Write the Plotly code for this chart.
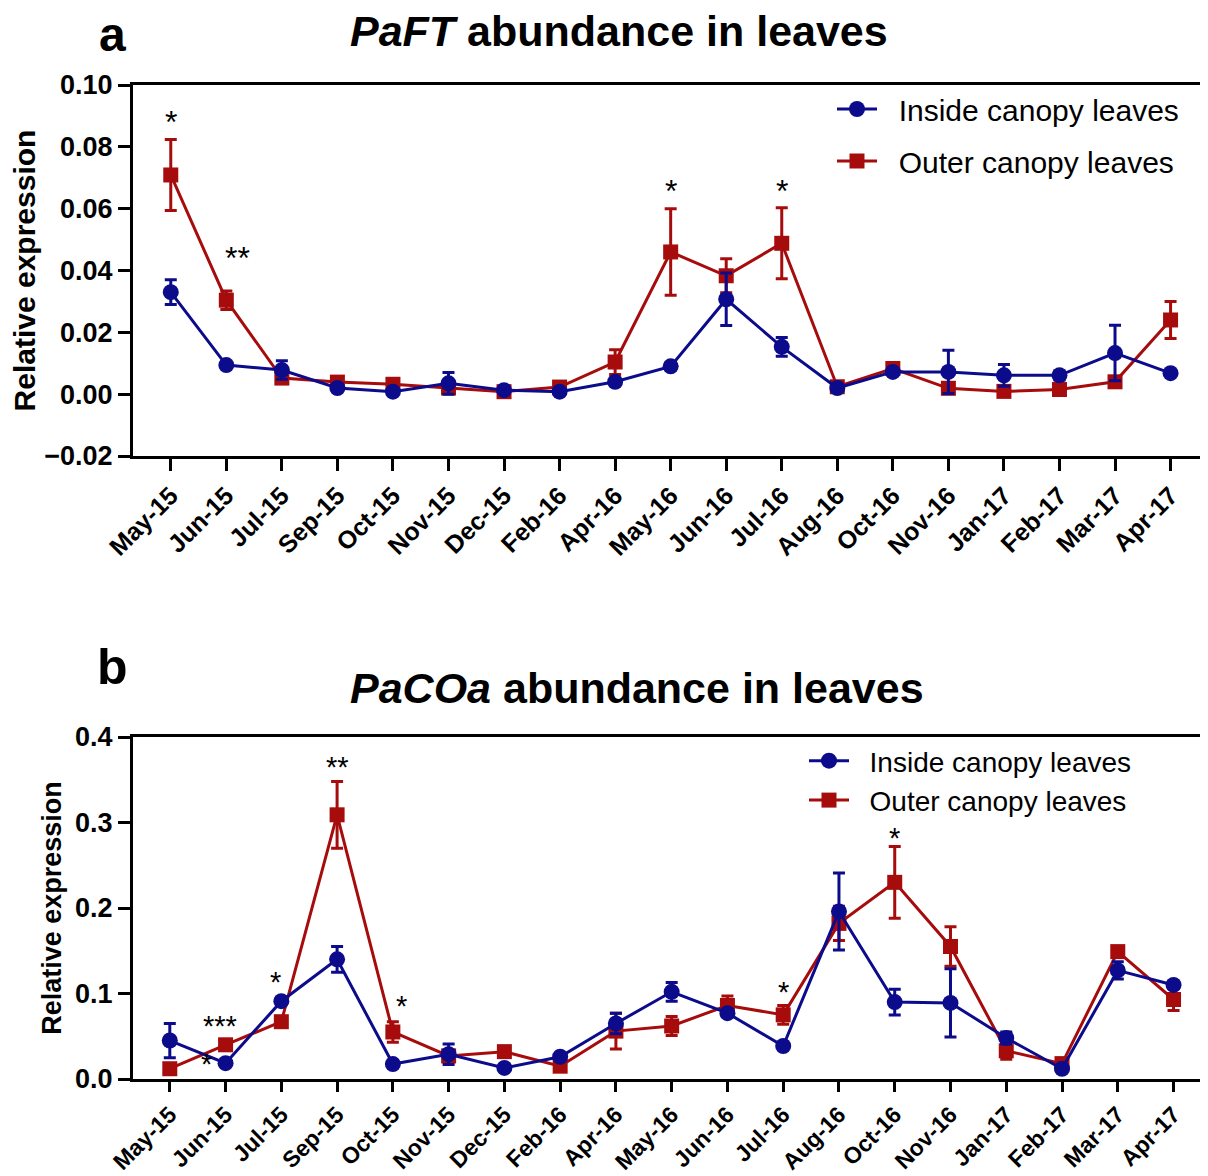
import plotly.graph_objects as go

months = ["May-15", "Jun-15", "Jul-15", "Sep-15", "Oct-15", "Nov-15", "Dec-15", "Feb-16",
          "Apr-16", "May-16", "Jun-16", "Jul-16", "Aug-16", "Oct-16", "Nov-16", "Jan-17",
          "Feb-17", "Mar-17", "Apr-17"]

# Panel a: PaFT
ft_inside = [0.0330, 0.0094, 0.0078, 0.0020, 0.0008, 0.0035, 0.0013, 0.0008, 0.0040, 0.0090,
             0.0307, 0.0153, 0.0020, 0.0072, 0.0072, 0.0061, 0.0061, 0.0133, 0.0068]
ft_inside_err = [0.0040, 0.0008, 0.0030, 0.0005, 0.0005, 0.0035, 0.0008, 0.0005, 0.0008, 0.0012,
                 0.0085, 0.0030, 0.0008, 0.0012, 0.0070, 0.0035, 0.0015, 0.0090, 0.0005]
ft_outer = [0.0709, 0.0304, 0.0052, 0.0039, 0.0032, 0.0020, 0.0008, 0.0023, 0.0104, 0.0460,
            0.0383, 0.0488, 0.0024, 0.0083, 0.0019, 0.0009, 0.0015, 0.0040, 0.0240]
ft_outer_err = [0.0115, 0.0030, 0.0010, 0.0008, 0.0005, 0.0008, 0.0005, 0.0005, 0.0040, 0.0140,
                0.0055, 0.0115, 0.0008, 0.0015, 0.0008, 0.0005, 0.0008, 0.0015, 0.0060]

# Panel b: PaCOa
co_inside = [0.045, 0.0185, 0.091, 0.140, 0.0175, 0.029, 0.013, 0.026, 0.065, 0.102,
             0.077, 0.0386, 0.196, 0.090, 0.089, 0.048, 0.012, 0.127, 0.110]
co_inside_err = [0.020, 0.003, 0.004, 0.015, 0.003, 0.012, 0.003, 0.003, 0.012, 0.011,
                 0.004, 0.003, 0.045, 0.015, 0.040, 0.007, 0.003, 0.010, 0.004]
co_outer = [0.012, 0.040, 0.067, 0.309, 0.055, 0.027, 0.032, 0.015, 0.056, 0.062,
            0.086, 0.075, 0.182, 0.230, 0.155, 0.033, 0.018, 0.149, 0.093]
co_outer_err = [0.004, 0.004, 0.004, 0.039, 0.012, 0.005, 0.003, 0.003, 0.021, 0.011,
                0.011, 0.011, 0.020, 0.042, 0.023, 0.010, 0.003, 0.005, 0.013]

# significance marks: (category index, label, y value, x nudge in categories)
ft_sig = [(0, "*", 0.089, 0.0), (1, "**", 0.045, 0.2), (9, "*", 0.0667, 0.0), (11, "*", 0.0667, 0.0)]
co_sig = [(1, "***", 0.0667, -0.1), (1, "*", 0.022, -0.34), (2, "*", 0.118, -0.1),
          (3, "**", 0.37, 0.0), (4, "*", 0.09, 0.15), (11, "*", 0.106, 0.0), (13, "*", 0.286, 0.0)]

BLUE = "#0B0B8C"
RED = "#A60C0C"
FONT = "Liberation Sans, Arial, sans-serif"
NB = "\u00a0\u00a0"

# the page adds an 8px body margin; map page pixels to paper coordinates
W, H, OFF = 1200, 1168, 8


def px(x):
    return (x - OFF) / W


def py(y):
    return 1 - (y - OFF) / H


fig = go.Figure()


def add_series(vals, errs, color, symbol, name, xa, ya, legend, rank):
    fig.add_trace(go.Scatter(
        x=months, y=vals, name=NB + name, mode="lines+markers",
        line=dict(color=color, width=3),
        marker=dict(color=color, symbol=symbol, size=15 if symbol == "square" else 16),
        error_y=dict(type="data", array=errs, visible=True, color=color, thickness=3, width=6),
        xaxis=xa, yaxis=ya, legend=legend, legendrank=rank, legendgroup=legend + name,
    ))


add_series(ft_outer, ft_outer_err, RED, "square", "Outer canopy leaves", "x", "y", "legend", 2)
add_series(ft_inside, ft_inside_err, BLUE, "circle", "Inside canopy leaves", "x", "y", "legend", 1)
add_series(co_outer, co_outer_err, RED, "square", "Outer canopy leaves", "x2", "y2", "legend2", 2)
add_series(co_inside, co_inside_err, BLUE, "circle", "Inside canopy leaves", "x2", "y2", "legend2", 1)

annotations = []
for idx, lab, yv, dx in ft_sig:
    annotations.append(dict(x=idx + dx, y=yv, xref="x", yref="y", text=lab, showarrow=False,
                            font=dict(family=FONT, size=32, color="black"), yshift=-3))
for idx, lab, yv, dx in co_sig:
    annotations.append(dict(x=idx + dx, y=yv, xref="x2", yref="y2", text=lab, showarrow=False,
                            font=dict(family=FONT, size=29, color="black"), yshift=-4))

annotations += [
    dict(x=px(112), y=py(34), xref="paper", yref="paper", text="<b>a</b>", showarrow=False,
         xanchor="center", yanchor="middle", font=dict(family=FONT, size=48, color="black")),
    dict(x=px(619), y=py(31), xref="paper", yref="paper",
         text="<b><i>PaFT</i> abundance in leaves</b>", xanchor="center", yanchor="middle",
         showarrow=False, font=dict(family=FONT, size=43, color="black")),
    dict(x=px(112), y=py(667), xref="paper", yref="paper", text="<b>b</b>", showarrow=False,
         xanchor="center", yanchor="middle", font=dict(family=FONT, size=50, color="black")),
    dict(x=px(637), y=py(688), xref="paper", yref="paper",
         text="<b><i>PaCOa</i> abundance in leaves</b>", xanchor="center", yanchor="middle",
         showarrow=False, font=dict(family=FONT, size=43, color="black")),
]

xcommon = dict(type="category", showline=True, linewidth=3, linecolor="black", mirror=True,
               ticks="outside", tickwidth=3, tickcolor="black", tickangle=-45,
               showgrid=False, zeroline=False, automargin=False)
ycommon = dict(showline=True, linewidth=3, linecolor="black", mirror=True,
               ticks="outside", ticklen=12, tickwidth=3, tickcolor="black",
               showgrid=False, zeroline=False, automargin=False)

fig.update_layout(
    width=W, height=H,
    margin=dict(l=0, r=0, t=0, b=0, autoexpand=False),
    paper_bgcolor="white", plot_bgcolor="white",
    font=dict(family=FONT, color="black"),
    annotations=annotations,
    xaxis=dict(xcommon, domain=[px(133), px(1205)], anchor="y", range=[-0.68, 18.62], ticklen=12,
               tickfont=dict(family=FONT, size=25, color="black", weight="bold")),
    yaxis=dict(ycommon, domain=[py(456), py(85)], anchor="x", range=[-0.02, 0.10],
               dtick=0.02, tick0=0, tickformat=".2f",
               tickfont=dict(family=FONT, size=27, color="black", weight="bold"),
               title=dict(text="<b>Relative expression</b>", standoff=16,
                          font=dict(family=FONT, size=30, color="black"))),
    xaxis2=dict(xcommon, domain=[px(133), px(1207)], anchor="y2", range=[-0.66, 18.6], ticklen=10,
                tickfont=dict(family=FONT, size=23, color="black", weight="bold")),
    yaxis2=dict(ycommon, domain=[py(1079), py(737)], anchor="x2", range=[0, 0.4],
                dtick=0.1, tickformat=".1f",
                tickfont=dict(family=FONT, size=27, color="black", weight="bold"),
                title=dict(text="<b>Relative expression</b>", standoff=6,
                           font=dict(family=FONT, size=27, color="black"))),
    legend=dict(x=px(832), y=py(83), xanchor="left", yanchor="top", bgcolor="rgba(0,0,0,0)",
                font=dict(family=FONT, size=30, color="black"), tracegroupgap=10,
                itemwidth=40),
    legend2=dict(x=px(804), y=py(736), xanchor="left", yanchor="top", bgcolor="rgba(0,0,0,0)",
                 font=dict(family=FONT, size=28, color="black"), tracegroupgap=0,
                 itemwidth=40),
)

fig.write_html("out.html")
